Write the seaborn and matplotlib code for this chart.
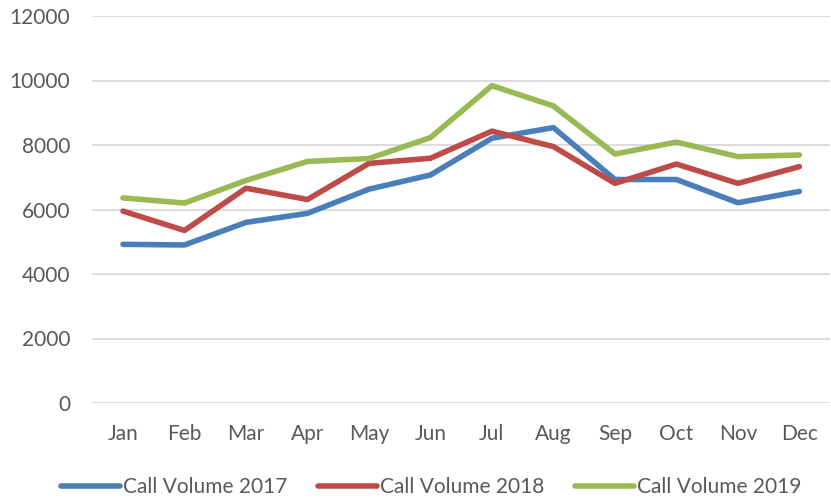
import matplotlib
matplotlib.use("Agg")
import matplotlib.pyplot as plt
import seaborn as sns
import pandas as pd

months = ["Jan", "Feb", "Mar", "Apr", "May", "Jun",
          "Jul", "Aug", "Sep", "Oct", "Nov", "Dec"]
calls_2017 = [4920, 4900, 5600, 5880, 6630, 7070, 8210, 8540, 6930, 6930, 6210, 6560]
calls_2018 = [5950, 5350, 6660, 6310, 7430, 7590, 8430, 7950, 6810, 7410, 6810, 7330]
calls_2019 = [6360, 6200, 6900, 7490, 7580, 8230, 9840, 9210, 7720, 8090, 7640, 7690]
series_names = ["Call Volume 2017", "Call Volume 2018", "Call Volume 2019"]
y_ticks = [0, 2000, 4000, 6000, 8000, 10000, 12000]

df = pd.DataFrame({
    "Month": months * 3,
    "Calls": calls_2017 + calls_2018 + calls_2019,
    "Series": [series_names[0]] * 12 + [series_names[1]] * 12 + [series_names[2]] * 12,
})
df["pos"] = df["Month"].map({m: i for i, m in enumerate(months)})

sns.set_style("white")
plt.rcParams["font.family"] = ["Lato", "DejaVu Sans"]

fig = plt.figure(figsize=(8.31, 5.0), dpi=100)
ax = fig.add_axes([0.111, 0.194, 0.888, 0.774])

palette = {series_names[0]: "#4A7EBB", series_names[1]: "#BE4B48", series_names[2]: "#98B954"}
sns.lineplot(data=df, x="pos", y="Calls", hue="Series", palette=palette,
             linewidth=4.0, ax=ax, legend=False, sort=False)

ax.set_xlim(-0.5, 11.5)
ax.set_ylim(0, 12000)
ax.set_yticks(y_ticks)
ax.set_yticklabels([str(v) for v in y_ticks])
ax.set_xticks(range(len(months)))
ax.set_xticklabels(months)
ax.set_xlabel("")
ax.set_ylabel("")
ax.yaxis.grid(True, color="#D9D9D9", linewidth=1.3)
ax.set_axisbelow(True)
for s in ax.spines.values():
    s.set_visible(False)
ax.tick_params(axis="both", length=0, labelsize=15, labelcolor="#595959")
ax.tick_params(axis="y", pad=16)
ax.tick_params(axis="x", pad=15)

handles = [plt.Line2D([], [], color=palette[n], linewidth=4.0) for n in series_names]
fig.legend(handles, series_names, loc="center", ncol=3, frameon=False,
           bbox_to_anchor=(0.519, 0.026), fontsize=15, handlelength=2.8,
           handletextpad=0.15, columnspacing=1.5, labelcolor="#595959")

fig.savefig("out.png", dpi=100)
